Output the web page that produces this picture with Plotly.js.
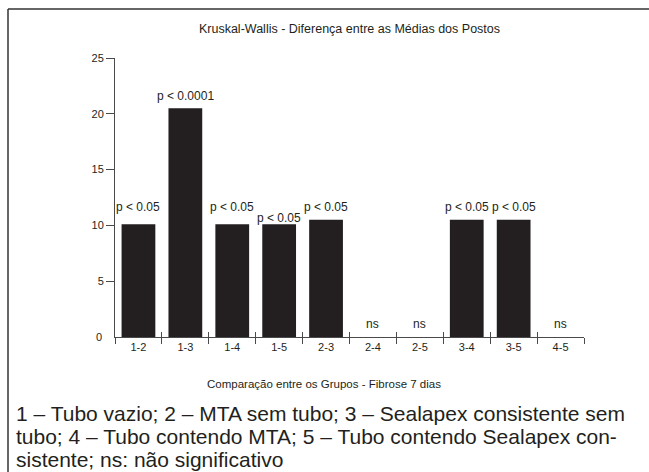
<!DOCTYPE html>
<html>
<head>
<meta charset="utf-8">
<script src="https://cdn.plot.ly/plotly-3.0.1.min.js"></script>
<style>html,body{margin:0;padding:0;background:#fff;}#chart{width:649px;height:472px;}</style>
</head>
<body>
<div id="chart"></div>
<script>
// ---- data ----
const categories = ["1-2","1-3","1-4","1-5","2-3","2-4","2-5","3-4","3-5","4-5"];
const meanRankDiff = [10.1, 20.5, 10.1, 10.1, 10.5, 0, 0, 10.5, 10.5, 0];
const pLabels = ["p < 0.05","p < 0.0001","p < 0.05","p < 0.05","p < 0.05","ns","ns","p < 0.05","p < 0.05","ns"];
const yTickVals = [0, 5, 10, 15, 20, 25];
const titleText = "Kruskal-Wallis - Diferença entre as Médias dos Postos";
const xTitleText = "Comparação entre os Grupos - Fibrose 7 dias";
const captionLines = [
  "1 – Tubo vazio; 2 – MTA sem tubo; 3 – Sealapex consistente sem",
  "tubo; 4 – Tubo contendo MTA; 5 – Tubo contendo Sealapex con-",
  "sistente; ns: não significativo"
];

// ---- style ----
const FONT = "Liberation Sans, Arial, sans-serif";
const INK = "#231f20";
const AXIS = "#4a4a4a";
const labelShift = [17, 12, 17, 6, 13, 13, 13, 13, 13, 13];
const W = 649, H = 472, L = 115, R = 65, T = 58, B = 135;
const plotH = H - T - B, plotW = W - L - R;
const py = px => (H - B - px) / plotH;   // pixel y -> paper y
const pxX = px => (px - L) / plotW;     // pixel x -> paper x

const traces = [
  {
    type: "bar", x: categories, y: meanRankDiff,
    marker: {color: INK, line: {width: 0}},
    hoverinfo: "skip", showlegend: false
  },
  {
    type: "scatter", mode: "markers", x: categories, y: categories.map(() => null),
    xaxis: "x2", yaxis: "y", hoverinfo: "skip", showlegend: false
  }
];

const annotations = categories.map((c, i) => ({
  x: c, y: meanRankDiff[i], xref: "x", yref: "y",
  text: pLabels[i], showarrow: false, yanchor: "middle", xanchor: "center",
  yshift: labelShift[i],
  font: {family: FONT, size: 12, color: INK}
}));

// zero label on the y axis (reference draws no tick mark at 0)
annotations.push({
  xref: "paper", yref: "y", x: 0, y: yTickVals[0], xanchor: "right", yanchor: "middle",
  xshift: -11, text: String(yTickVals[0]), showarrow: false,
  font: {family: FONT, size: 11, color: INK}
});

annotations.push({
  xref: "paper", yref: "paper", x: pxX(324), y: py(384),
  text: xTitleText, showarrow: false, xanchor: "center", yanchor: "middle",
  font: {family: FONT, size: 11.5, color: INK}
});

const captionY = [413, 436, 459];
captionLines.forEach((t, i) => annotations.push({
  xref: "paper", yref: "paper", x: pxX(14), y: py(captionY[i]),
  text: t, showarrow: false, xanchor: "left", yanchor: "middle", align: "left",
  font: {family: FONT, size: 21, color: INK}
}));

const layout = {
  width: W, height: H,
  margin: {l: L, r: R, t: T, b: B, pad: 0},
  paper_bgcolor: "#fff", plot_bgcolor: "#fff",
  bargap: 0.28,
  title: {
    text: titleText, x: 0.5, xref: "paper", xanchor: "center",
    y: 1 - 29 / H, yref: "container", yanchor: "middle",
    font: {family: FONT, size: 12.5, color: INK}
  },
  xaxis: {
    type: "category", categoryorder: "array", categoryarray: categories,
    range: [-0.5, categories.length - 0.5],
    tickson: "boundaries", ticks: "outside", ticklen: 6, tickwidth: 1, tickcolor: AXIS,
    showline: true, linecolor: AXIS, linewidth: 1, showgrid: false, zeroline: false,
    tickfont: {family: FONT, size: 11, color: INK}, fixedrange: true
  },
  xaxis2: {
    type: "category", categoryorder: "array", categoryarray: categories,
    range: [-0.5, categories.length - 0.5],
    overlaying: "x", anchor: "y", side: "bottom",
    tickson: "boundaries", ticks: "inside", ticklen: 5, tickwidth: 1, tickcolor: AXIS,
    showticklabels: false, showline: false, showgrid: false, zeroline: false
  },
  yaxis: {
    range: [0, 25], tickvals: yTickVals.slice(1), ticks: "outside", ticklen: 8, tickwidth: 1, tickcolor: AXIS,
    showline: true, linecolor: AXIS, linewidth: 1, showgrid: false, zeroline: false,
    tickfont: {family: FONT, size: 11, color: INK}, fixedrange: true
  },
  shapes: [
    {type: "line", xref: "paper", yref: "paper", x0: pxX(8), x1: pxX(W + 2), y0: py(9), y1: py(9),
     line: {color: "#333", width: 1.5}},
    {type: "line", xref: "paper", yref: "paper", x0: pxX(8), x1: pxX(8), y0: py(9), y1: py(H + 2),
     line: {color: "#333", width: 1.5}}
  ],
  annotations: annotations
};

Plotly.newPlot("chart", traces, layout, {displayModeBar: false, staticPlot: true});
</script>
</body>
</html>
